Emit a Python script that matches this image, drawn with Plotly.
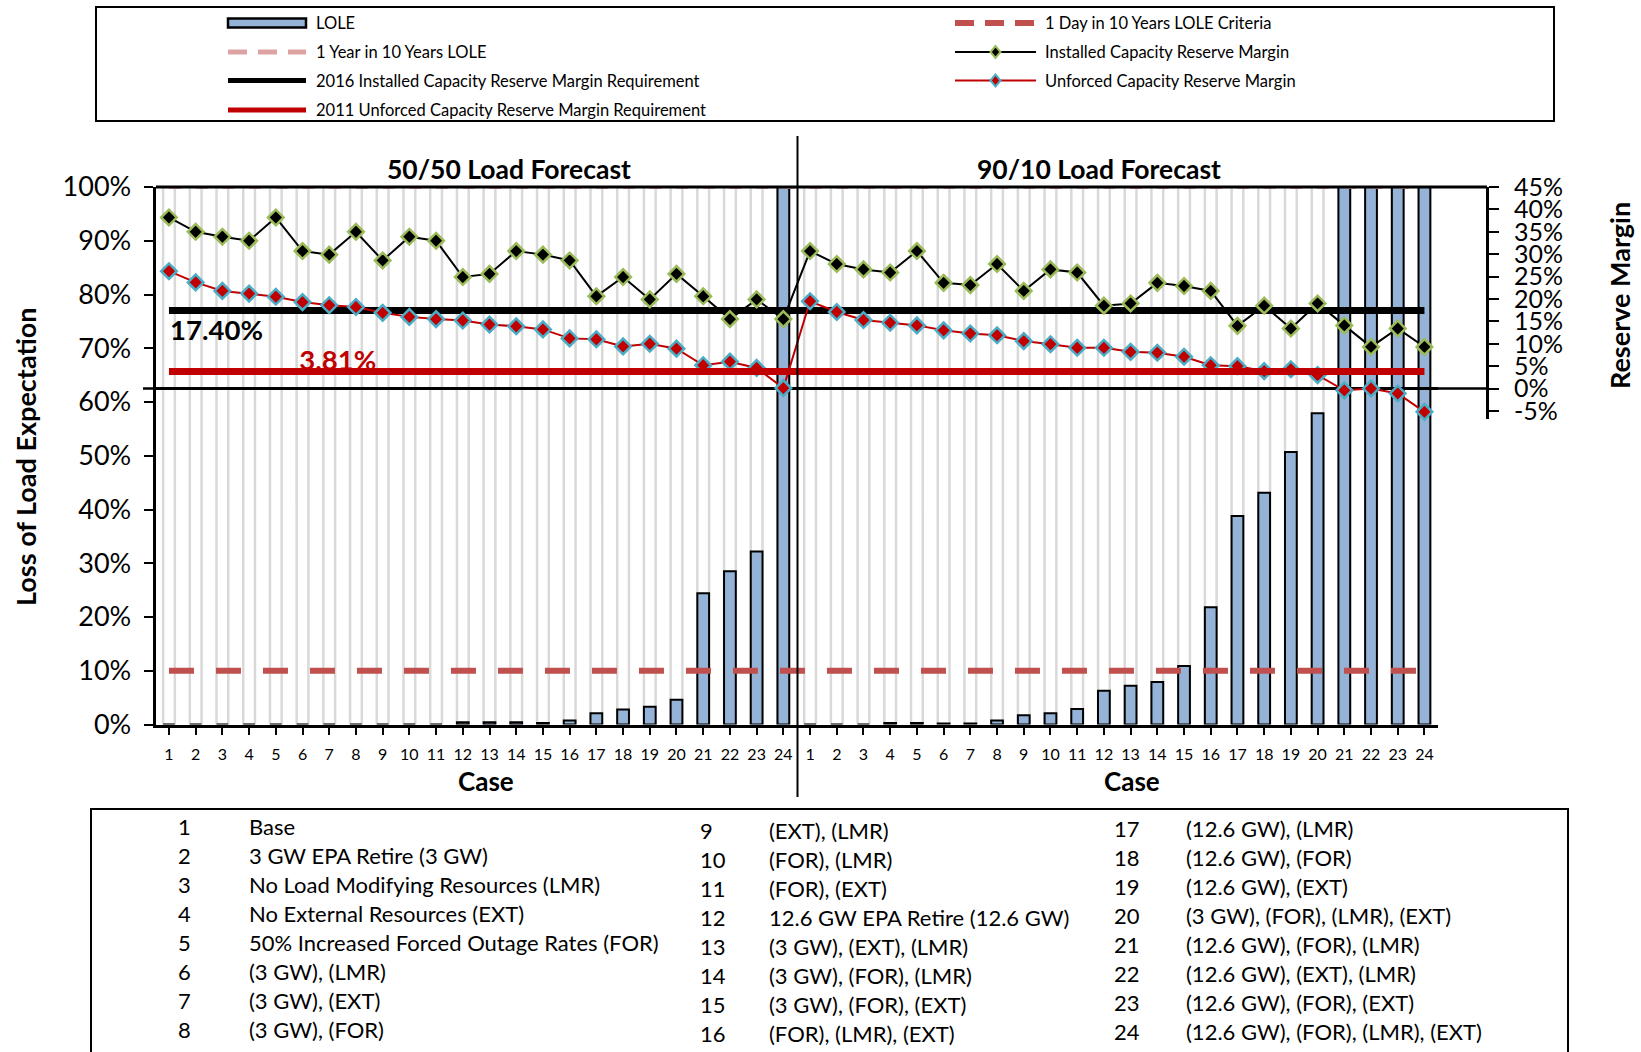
import plotly.graph_objects as go

W, H = 1641, 1052
FONT = "Lato"

# ---------------- data ----------------
case_numbers = list(range(1, 25))
forecast_titles = ["50/50 Load Forecast", "90/10 Load Forecast"]

# Loss of load expectation by case (fraction; axis is capped at 100%)
lole_5050 = [0, 0, 0, 0, 0, 0, 0, 0, 0, 0, 0, 0.004, 0.004, 0.004, 0.003, 0.0075,
             0.021, 0.028, 0.033, 0.046, 0.244, 0.285, 0.322, 1.0]
lole_9010 = [0, 0, 0, 0.003, 0.003, 0.002, 0.002, 0.0075, 0.017, 0.021, 0.029, 0.063,
             0.072, 0.079, 0.109, 0.218, 0.388, 0.431, 0.507, 0.579, 1.0, 1.0, 1.0, 1.0]

# Installed capacity reserve margin by case
icrm_5050 = [0.382, 0.350, 0.339, 0.330, 0.382, 0.307, 0.299, 0.350, 0.286, 0.339, 0.330, 0.249,
             0.256, 0.307, 0.299, 0.286, 0.206, 0.249, 0.199, 0.256, 0.206, 0.155, 0.199, 0.155]
icrm_9010 = [0.307, 0.278, 0.266, 0.259, 0.307, 0.236, 0.231, 0.278, 0.218, 0.266, 0.259, 0.185,
             0.190, 0.236, 0.229, 0.218, 0.140, 0.185, 0.134, 0.190, 0.141, 0.093, 0.134, 0.093]

# Unforced capacity reserve margin by case
ucrm_5050 = [0.262, 0.237, 0.218, 0.212, 0.205, 0.193, 0.186, 0.182, 0.169, 0.160, 0.155, 0.152,
             0.143, 0.139, 0.132, 0.112, 0.110, 0.094, 0.100, 0.089, 0.052, 0.060, 0.046, 0.001]
ucrm_9010 = [0.195, 0.171, 0.153, 0.147, 0.141, 0.130, 0.123, 0.119, 0.106, 0.099, 0.091, 0.091,
             0.082, 0.080, 0.071, 0.052, 0.050, 0.039, 0.043, 0.030, -0.004, 0.000, -0.011, -0.052]

icap_requirement = 0.174     # 2016 installed capacity reserve margin requirement
ucap_requirement = 0.0381    # 2011 unforced capacity reserve margin requirement
one_day_in_ten = 0.10        # 1 day in 10 years LOLE criteria
one_year_in_ten = 1.00       # 1 year in 10 years LOLE

left_ticks = [0, 0.1, 0.2, 0.3, 0.4, 0.5, 0.6, 0.7, 0.8, 0.9, 1.0]
left_ticktext = ["0%", "10%", "20%", "30%", "40%", "50%", "60%", "70%", "80%", "90%", "100%"]
right_ticks = [-0.05, 0, 0.05, 0.10, 0.15, 0.20, 0.25, 0.30, 0.35, 0.40, 0.45]
right_ticktext = ["-5%", "0%", "5%", "10%", "15%", "20%", "25%", "30%", "35%", "40%", "45%"]

case_descriptions = [
    "Base", "3 GW EPA Retire (3 GW)", "No Load Modifying Resources (LMR)",
    "No External Resources (EXT)", "50% Increased Forced Outage Rates (FOR)",
    "(3 GW), (LMR)", "(3 GW), (EXT)", "(3 GW), (FOR)",
    "(EXT), (LMR)", "(FOR), (LMR)", "(FOR), (EXT)", "12.6 GW EPA Retire (12.6 GW)",
    "(3 GW), (EXT), (LMR)", "(3 GW), (FOR), (LMR)", "(3 GW), (FOR), (EXT)", "(FOR), (LMR), (EXT)",
    "(12.6 GW), (LMR)", "(12.6 GW), (FOR)", "(12.6 GW), (EXT)", "(3 GW), (FOR), (LMR), (EXT)",
    "(12.6 GW), (FOR), (LMR)", "(12.6 GW), (EXT), (LMR)", "(12.6 GW), (FOR), (EXT)",
    "(12.6 GW), (FOR), (LMR), (EXT)",
]

legend_labels = {
    "lole": "LOLE",
    "one_year": "1 Year in 10 Years LOLE",
    "icap_req": "2016 Installed Capacity Reserve Margin Requirement",
    "ucap_req": "2011 Unforced Capacity Reserve Margin Requirement",
    "one_day": "1 Day in 10 Years LOLE Criteria",
    "icrm": "Installed Capacity Reserve Margin",
    "ucrm": "Unforced Capacity Reserve Margin",
}

# ---------------- colours ----------------
BAR_BLUE = "#95B3D7"
FRAME_GREY = "#D9D9D9"
PINK = "#DDA3A2"
BRICK = "#C0504D"
DARK_RED = "#C00000"
GREEN = "#9BBB59"
CYAN = "#4BACC6"

# ---------------- geometry helpers (pixel -> paper) ----------------
def px(x):
    return x / W


def py(y):
    return 1 - y / H


x_pos = list(range(1, 2 * len(case_numbers) + 1))
x_ticktext = [str(c) for c in case_numbers] * 2
x_ends = [x_pos[0], x_pos[-1]]

fig = go.Figure()

# grey frame columns behind each case
fig.add_trace(go.Bar(
    x=x_pos, y=[one_year_in_ten] * len(x_pos), width=0.44,
    marker=dict(color="rgba(0,0,0,0)", line=dict(color=FRAME_GREY, width=2.5)),
    hoverinfo="skip", showlegend=False,
))
# LOLE bars
fig.add_trace(go.Bar(
    x=x_pos, y=lole_5050 + lole_9010, width=0.44, name=legend_labels["lole"],
    marker=dict(color=BAR_BLUE, line=dict(color="black", width=2)),
    showlegend=False,
))
# LOLE reference levels
fig.add_trace(go.Scatter(
    x=x_ends, y=[one_year_in_ten] * 2, mode="lines", name=legend_labels["one_year"],
    line=dict(color=PINK, width=4, dash="12px,14.7px"), showlegend=False,
))
fig.add_trace(go.Scatter(
    x=x_ends, y=[one_day_in_ten] * 2, mode="lines", name=legend_labels["one_day"],
    line=dict(color=BRICK, width=6, dash="25px,22px"), showlegend=False,
))

# requirement labels (drawn before the lines so the lines sit on top)
fig.add_trace(go.Scatter(
    x=[2.78], y=[0.1245], xaxis="x", yaxis="y2", mode="text",
    text=[f"{icap_requirement:.2%}"], textposition="middle center",
    textfont=dict(family=FONT, size=27.5, color="black", weight="bold"),
    hoverinfo="skip", showlegend=False, cliponaxis=False,
))
fig.add_trace(go.Scatter(
    x=[7.32], y=[0.0565], xaxis="x", yaxis="y2", mode="text",
    text=[f"{ucap_requirement:.2%}"], textposition="middle center",
    textfont=dict(family=FONT, size=27.5, color=DARK_RED, weight="bold"),
    hoverinfo="skip", showlegend=False, cliponaxis=False,
))

# 2016 installed capacity requirement
fig.add_trace(go.Scatter(
    x=x_ends, y=[icap_requirement] * 2, xaxis="x", yaxis="y2", mode="lines",
    name=legend_labels["icap_req"], line=dict(color="black", width=7), showlegend=False,
))
# reserve margin series
fig.add_trace(go.Scatter(
    x=x_pos, y=icrm_5050 + icrm_9010, xaxis="x", yaxis="y2", mode="lines+markers",
    name=legend_labels["icrm"], line=dict(color="black", width=2),
    marker=dict(symbol="diamond", size=12, color="black", line=dict(color=GREEN, width=2.5)),
    cliponaxis=False, showlegend=False,
))
fig.add_trace(go.Scatter(
    x=x_pos, y=ucrm_5050 + ucrm_9010, xaxis="x", yaxis="y2", mode="lines+markers",
    name=legend_labels["ucrm"], line=dict(color=DARK_RED, width=2),
    marker=dict(symbol="diamond", size=12, color=DARK_RED, line=dict(color=CYAN, width=2.5)),
    cliponaxis=False, showlegend=False,
))
# 2011 unforced capacity requirement
fig.add_trace(go.Scatter(
    x=x_ends, y=[ucap_requirement] * 2, xaxis="x", yaxis="y2", mode="lines",
    name=legend_labels["ucap_req"], line=dict(color=DARK_RED, width=7), showlegend=False,
))

# ---------------- shapes ----------------
shapes = []
# legend frame and case table frame
shapes.append(dict(type="rect", xref="paper", yref="paper", x0=px(96), x1=px(1554),
                   y0=py(121), y1=py(7), line=dict(color="black", width=2), layer="below"))
shapes.append(dict(type="rect", xref="paper", yref="paper", x0=px(91), x1=px(1568),
                   y0=py(1070), y1=py(809), line=dict(color="black", width=2), layer="below"))
# reserve-margin panel: top border and zero line reaching out to the right axis
shapes.append(dict(type="line", xref="paper", yref="paper", x0=px(156), x1=px(1487),
                   y0=py(187), y1=py(187), line=dict(color="black", width=3), layer="above"))
shapes.append(dict(type="line", xref="paper", yref="y2", x0=px(143), x1=px(1487),
                   y0=0, y1=0, line=dict(color="black", width=2.5), layer="below"))
# divider between the two load forecasts
shapes.append(dict(type="line", xref="paper", yref="paper", x0=px(797.5), x1=px(797.5),
                   y0=py(797), y1=py(136), line=dict(color="black", width=2), layer="above"))

# legend glyphs
LX0, LX1 = 228, 306
RX0, RX1 = 955, 1036
ROWS = [23, 52, 80.5, 110]
shapes.append(dict(type="rect", xref="paper", yref="paper", x0=px(LX0), x1=px(LX1),
                   y0=py(ROWS[0] + 4.5), y1=py(ROWS[0] - 4.5),
                   fillcolor=BAR_BLUE, line=dict(color="black", width=2.5)))
shapes.append(dict(type="line", xref="paper", yref="paper", x0=px(LX0), x1=px(LX1),
                   y0=py(ROWS[1]), y1=py(ROWS[1]), line=dict(color=PINK, width=5, dash="19px,11px")))
shapes.append(dict(type="line", xref="paper", yref="paper", x0=px(LX0), x1=px(LX1),
                   y0=py(ROWS[2]), y1=py(ROWS[2]), line=dict(color="black", width=5)))
shapes.append(dict(type="line", xref="paper", yref="paper", x0=px(LX0), x1=px(LX1),
                   y0=py(ROWS[3]), y1=py(ROWS[3]), line=dict(color=DARK_RED, width=5)))
shapes.append(dict(type="line", xref="paper", yref="paper", x0=px(RX0), x1=px(RX1),
                   y0=py(ROWS[0]), y1=py(ROWS[0]), line=dict(color=BRICK, width=6, dash="19px,11px")))
shapes.append(dict(type="line", xref="paper", yref="paper", x0=px(RX0), x1=px(RX1),
                   y0=py(ROWS[1]), y1=py(ROWS[1]), line=dict(color="black", width=2)))
shapes.append(dict(type="line", xref="paper", yref="paper", x0=px(RX0), x1=px(RX1),
                   y0=py(ROWS[2]), y1=py(ROWS[2]), line=dict(color=DARK_RED, width=2)))


def diamond_path(cx, cy, hw=5, hh=6):
    pts = [(cx - hw, cy), (cx, cy - hh), (cx + hw, cy), (cx, cy + hh)]
    return "M " + " L ".join(f"{px(a):.5f},{py(b):.5f}" for a, b in pts) + " Z"


mid = (RX0 + RX1) / 2
shapes.append(dict(type="path", xref="paper", yref="paper", path=diamond_path(mid, ROWS[1]),
                   fillcolor="black", line=dict(color=GREEN, width=2)))
shapes.append(dict(type="path", xref="paper", yref="paper", path=diamond_path(mid, ROWS[2]),
                   fillcolor=DARK_RED, line=dict(color=CYAN, width=2)))

# ---------------- annotations ----------------
ann = []


def text(x, y, s, size, anchor="center", bold=False, color="black", angle=0):
    ann.append(dict(x=px(x), y=py(y), xref="paper", yref="paper", text=s, showarrow=False,
                    xanchor=anchor, yanchor="middle", textangle=angle,
                    font=dict(family=FONT, size=size, color=color,
                              weight="bold" if bold else "normal")))


text(509, 169, forecast_titles[0], 26.5, bold=True)
text(1099, 169, forecast_titles[1], 26.5, bold=True)
text(486, 781, "Case", 26, bold=True)
text(1132, 781, "Case", 26, bold=True)
text(25, 457, "Loss of Load Expectation", 27, bold=True, angle=-90)
text(1620, 296, "Reserve Margin", 27, bold=True, angle=-90)

# legend labels
for key, row in zip(["lole", "one_year", "icap_req", "ucap_req"], ROWS):
    text(314, row, legend_labels[key], 16.5, anchor="left")
for key, row in zip(["one_day", "icrm", "ucrm"], ROWS[:3]):
    text(1043, row, legend_labels[key], 16.5, anchor="left")

# case table
table_cols = [
    dict(num_x=176, desc_x=247, y0=826),
    dict(num_x=698, desc_x=767, y0=830),
    dict(num_x=1112, desc_x=1184, y0=828),
]
for col_i, col in enumerate(table_cols):
    for r in range(8):
        idx = col_i * 8 + r
        y = col["y0"] + r * 29.0
        text(col["num_x"], y, str(case_numbers[idx]), 22, anchor="left")
        text(col["desc_x"], y, case_descriptions[idx], 22, anchor="left")

# ---------------- layout ----------------
fig.update_layout(
    width=W, height=H,
    margin=dict(l=0, r=0, t=0, b=0, pad=0, autoexpand=False),
    paper_bgcolor="white", plot_bgcolor="rgba(0,0,0,0)",
    barmode="overlay", showlegend=False,
    font=dict(family=FONT, color="black"),
    shapes=shapes, annotations=ann,
    xaxis=dict(
        domain=[px(155.6), px(1437.8)], range=[0.5, 48.5], anchor="y",
        tickmode="array", tickvals=x_pos, ticktext=x_ticktext,
        ticks="outside", ticklen=7, tickwidth=2, tickcolor="black",
        showline=True, linecolor="black", linewidth=3,
        showgrid=False, zeroline=False, tickfont=dict(size=16),
        ticklabelstandoff=6, automargin=False,
    ),
    yaxis=dict(
        domain=[py(724.5), py(187)], range=[0, 1], anchor="x",
        tickmode="array", tickvals=left_ticks, ticktext=left_ticktext,
        ticks="outside", ticklen=9, tickwidth=2, tickcolor="black",
        showline=True, linecolor="black", linewidth=3,
        showgrid=False, zeroline=False, tickfont=dict(size=27),
        ticklabelstandoff=7, automargin=False,
    ),
    yaxis2=dict(
        domain=[py(419), py(187)], range=[-0.068, 0.45],
        anchor="free", position=px(1487), side="right",
        tickmode="array", tickvals=right_ticks, ticktext=right_ticktext,
        ticks="outside", ticklen=10, tickwidth=2, tickcolor="black",
        showline=True, linecolor="black", linewidth=3,
        showgrid=False, zeroline=True, zerolinecolor="black", zerolinewidth=2.5,
        tickfont=dict(size=25), ticklabelstandoff=10, automargin=False,
    ),
)

fig.write_html("out.html", config={"displayModeBar": False})
